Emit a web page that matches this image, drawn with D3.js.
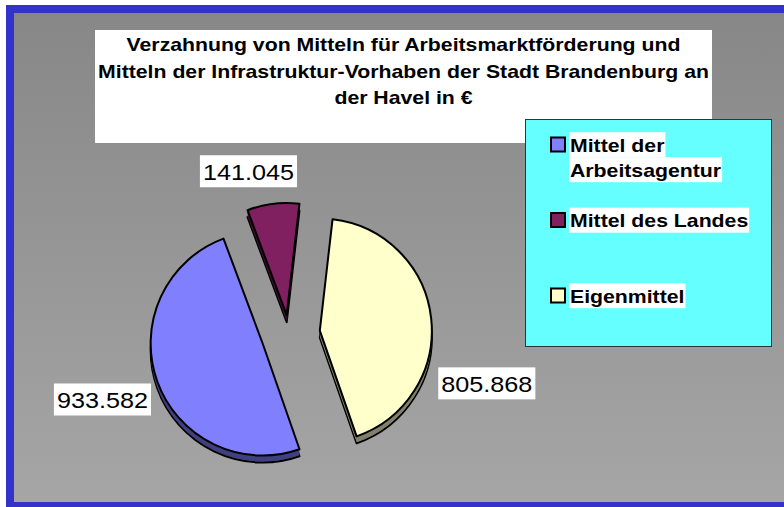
<!DOCTYPE html>
<html><head><meta charset="utf-8">
<script src="https://cdn.jsdelivr.net/npm/d3@7"></script>
<style>body{margin:0;background:#fff}svg{display:block}</style>
</head><body><svg id="c" width="784" height="507"></svg>
<script>
// ---- data ----
const titleLines = ["Verzahnung von Mitteln für Arbeitsmarktförderung und",
                    "Mitteln der Infrastruktur-Vorhaben der Stadt Brandenburg an",
                    "der Havel in €"];
const categories = ["Mittel der Arbeitsagentur", "Mittel des Landes", "Eigenmittel"];
const legendLines = [["Mittel der", "Arbeitsagentur"], ["Mittel des Landes"], ["Eigenmittel"]];
const values = [933582, 141045, 805868];
const topColors = ["#8080ff", "#802060", "#ffffcc"];
const sideColors = ["#40407f", "#401030", "#80806a"];

// ---- layout ----
const svg = d3.select("#c");
const stretch = 1.18;
const fmt = d3.formatLocale({decimal: ",", thousands: ".", grouping: [3], currency: ["", "€"]}).format(",d");

const defs = svg.append("defs");
const g = defs.append("linearGradient").attr("id", "bg").attr("x1", 0).attr("y1", 0).attr("x2", 0).attr("y2", 1);
g.append("stop").attr("offset", "0%").attr("stop-color", "#878787");
g.append("stop").attr("offset", "100%").attr("stop-color", "#a6a6a6");

// frame
svg.append("rect").attr("x", 10).attr("y", 9).attr("width", 800).attr("height", 497)
  .attr("fill", "url(#bg)").attr("stroke", "#3333cc").attr("stroke-width", 8);

function fitText(sel, f) {
  let w = 0;
  sel.each(function() {
    const len = this.getComputedTextLength() * f;
    w = len;
    d3.select(this).attr("textLength", len).attr("lengthAdjust", "spacingAndGlyphs");
  });
  return w;
}

// title
svg.append("rect").attr("x", 95).attr("y", 30).attr("width", 617).attr("height", 113).attr("fill", "#fff");
svg.selectAll("text.title").data(titleLines).join("text")
  .attr("class", "title")
  .attr("x", 403.5).attr("y", (d, i) => 51 + i * 26.7)
  .attr("text-anchor", "middle")
  .attr("font-family", "Liberation Sans, Arial, sans-serif").attr("font-weight", "bold").attr("font-size", 18.5)
  .text(d => d)
  .each(function() { fitText(d3.select(this), stretch * 18 / 18.5); });

// legend
svg.append("rect").attr("x", 525.5).attr("y", 119.5).attr("width", 246).attr("height", 227)
  .attr("fill", "#66ffff").attr("stroke", "#333").attr("stroke-width", 1);
const legY = d3.scalePoint().domain(categories).range([144.5, 295.5]);
categories.forEach((c, i) => {
  const cy = legY(c);
  legendLines[i].forEach((line, j) => {
    const base = cy + 7.2 + j * 25;
    const bg = svg.append("rect").attr("fill", "#fff");
    const t = svg.append("text").attr("x", 570).attr("y", base)
      .attr("font-family", "Liberation Sans, Arial, sans-serif").attr("font-weight", "bold").attr("font-size", 18.5)
      .text(line);
    const w = fitText(t, stretch * 18 / 18.5);
    bg.attr("x", 569).attr("y", base - 19.5).attr("width", w + 2).attr("height", 25);
  });
  svg.append("rect").attr("x", 551).attr("y", cy - 7).attr("width", 14).attr("height", 14)
    .attr("fill", topColors[i]).attr("stroke", "#000").attr("stroke-width", 2);
});

// pie
const cx = 289, cy0 = 334, R = 112, depth = 7;
const startDeg = 160.8;
const a0 = startDeg * Math.PI / 180;
const pie = d3.pie().sort(null).value(d => d).startAngle(a0).endAngle(a0 + 2 * Math.PI);
const arcs = pie(values);
const arc = d3.arc().innerRadius(0).outerRadius(R);
const explode = [28, 19, 31];
const labelR = [165, 150, 165];
const nudge = [[-5, 0], [-20, 5], [3, 71]];

const pg = svg.append("g");
[1, 0, 2].forEach(i => {
  const a = arcs[i];
  const mid = (a.startAngle + a.endAngle) / 2;
  const ox = cx + Math.sin(mid) * explode[i];
  const oy = cy0 - Math.cos(mid) * explode[i];
  const sg = pg.append("g").attr("transform", `translate(${ox},${oy})`);
  sg.append("path").attr("d", arc(a)).attr("transform", `translate(0,${depth})`)
    .attr("fill", sideColors[i]).attr("stroke", "#000").attr("stroke-width", 2).attr("stroke-linejoin", "round");
  for (let k = 1; k < depth; k++) {
    sg.append("path").attr("d", arc(a)).attr("transform", `translate(0,${k})`).attr("fill", sideColors[i]);
  }
  sg.append("path").attr("d", arc(a)).attr("fill", topColors[i])
    .attr("stroke", "#000").attr("stroke-width", 2).attr("stroke-linejoin", "round");

  // data label
  const lx = ox + Math.sin(mid) * labelR[i] + nudge[i][0];
  const ly = oy - Math.cos(mid) * labelR[i] + nudge[i][1];
  const bg = svg.append("rect").attr("fill", "#fff");
  const t = svg.append("text").attr("x", lx).attr("y", ly + 8.3)
    .attr("text-anchor", "middle")
    .attr("font-family", "Liberation Sans, Arial, sans-serif").attr("font-size", 22.5)
    .text(fmt(values[i]));
  const tw = fitText(t, 1.12);
  bg.attr("x", lx - tw / 2 - 3).attr("y", ly - 16).attr("width", tw + 6).attr("height", 32);
});
</script></body></html>
